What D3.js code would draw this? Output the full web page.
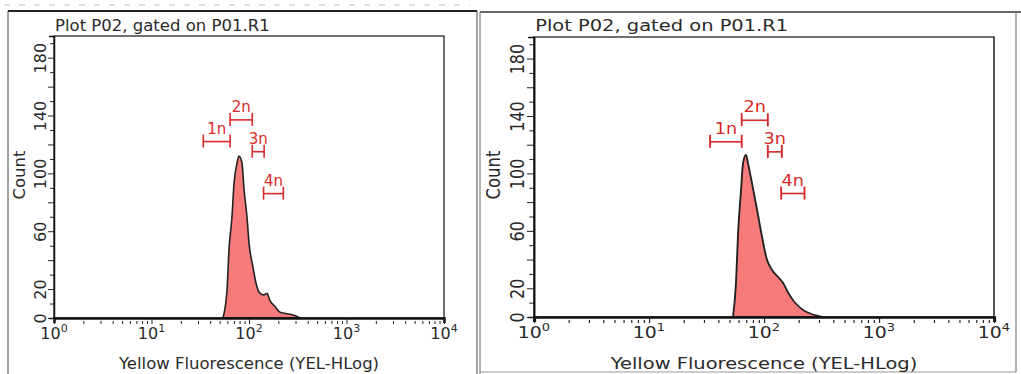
<!DOCTYPE html>
<html lang="en">
<head>
  <meta charset="utf-8">
  <script src="https://d3js.org/d3.v7.min.js"></script>
  <style>
    body { margin: 0; background: #fff; }
    svg { display: block; }
    text { font-family: "DejaVu Sans", Verdana, sans-serif; fill: #2a2a2a; }
  </style>
</head>
<body>
  <svg id="chart"></svg>

  <script>
    // data
    var xTickValues = [1, 10, 100, 1000, 10000];
    var yTickLabels = [0, 20, 60, 100, 140, 180];

    var gateNames = ['1n', '2n', '3n', '4n'];
    var gateLow = [34, 64, 108, 141];
    var gateHigh = [64, 108, 143, 225];
    var gateLevel = [122, 137, 115, 86];

    var leftFluor = [54, 59.5, 62.3, 66.9, 70.2, 75.3, 78.9, 84.8, 88.9, 95.3, 100, 110, 118, 130, 142, 153, 164, 185, 208, 245, 283, 334];
    var leftCount = [0, 19, 47, 70, 93, 107, 112, 107, 89, 70, 52, 35, 24, 17, 16, 17, 12, 8, 4, 3, 2, 0];

    var rightFluor = [53.8, 57.1, 59.5, 63.1, 65.7, 69.7, 72.6, 78.7, 86.9, 96.1, 106, 117, 132, 146, 162, 186, 218, 261, 289, 319];
    var rightCount = [0, 24, 58, 88, 107, 113, 107, 93, 75, 56, 40, 33, 28, 24, 17, 10, 5, 2, 1, 0];

    var W = 1021, H = 374;
    var svg = d3.select('#chart').attr('width', W).attr('height', H);

    // faint scan noise along the top-left edge
    svg.append('line')
      .attr('x1', 4).attr('x2', 470).attr('y1', 5).attr('y2', 5)
      .attr('stroke', '#bbb').attr('stroke-width', 1).attr('stroke-dasharray', '6,9');

    // panel frames
    svg.append('line').attr('x1', 8).attr('x2', 477).attr('y1', 11).attr('y2', 11)
      .attr('stroke', '#222').attr('stroke-width', 2);
    svg.append('line').attr('x1', 8).attr('x2', 8).attr('y1', 11).attr('y2', H)
      .attr('stroke', '#444').attr('stroke-width', 1);
    svg.append('line').attr('x1', 477).attr('x2', 477).attr('y1', 11).attr('y2', H)
      .attr('stroke', '#444').attr('stroke-width', 1);

    svg.append('line').attr('x1', 480).attr('x2', W).attr('y1', 12).attr('y2', 12)
      .attr('stroke', '#333').attr('stroke-width', 1.5);
    svg.append('line').attr('x1', 480).attr('x2', 480).attr('y1', 12).attr('y2', H)
      .attr('stroke', '#666').attr('stroke-width', 1);
    svg.append('line').attr('x1', 1016).attr('x2', 1016).attr('y1', 12).attr('y2', 372)
      .attr('stroke', '#666').attr('stroke-width', 1);
    svg.append('line').attr('x1', 480).attr('x2', 1016).attr('y1', 372).attr('y2', 372)
      .attr('stroke', '#999').attr('stroke-width', 1);

    function drawPanel(ox, sx, yBottom, yTop, fluor, count) {
      var g = svg.append('g')
        .attr('transform', 'translate(' + ox + ',0) scale(' + sx + ',1)');

      var x = d3.scaleLog().domain([1, 10000]).range([54, 444]);
      var y = d3.scaleLinear().domain([0, 195]).range([yBottom, yTop]);

      // title
      g.append('text')
        .attr('x', 55).attr('y', 31)
        .style('font-size', '16.5px')
        .text('Plot P02, gated on P01.R1');

      // histogram
      var pts = fluor.map(function (v, i) { return { v: v, c: count[i] }; });
      var area = d3.area()
        .x(function (d) { return x(d.v); })
        .y0(y(0))
        .y1(function (d) { return y(d.c); })
        .curve(d3.curveMonotoneX);
      g.append('path')
        .datum(pts)
        .attr('d', area)
        .attr('fill', '#f77b7b')
        .attr('stroke', '#222')
        .attr('stroke-width', 1.6)
        .attr('stroke-linejoin', 'round');

      // plot box
      g.append('rect')
        .attr('x', x(1)).attr('y', y(195))
        .attr('width', x(10000) - x(1)).attr('height', y(0) - y(195))
        .attr('fill', 'none').attr('stroke', '#111').attr('stroke-width', 1.2);

      // y axis
      var yAxis = d3.axisLeft(y)
        .tickValues(d3.range(0, 195, 10))
        .tickSize(5)
        .tickFormat(function (d) { return yTickLabels.indexOf(d) >= 0 ? d : ''; });
      var ya = g.append('g')
        .attr('transform', 'translate(' + x(1) + ',0)')
        .call(yAxis);
      ya.select('.domain').attr('stroke', '#111').attr('stroke-width', 1.5);
      ya.selectAll('.tick line')
        .attr('stroke', '#222')
        .attr('x2', function (d) { return d % 20 === 0 ? -6 : -4; });
      ya.selectAll('.tick text')
        .attr('x', 0).attr('y', 0).attr('dy', '0.35em')
        .attr('text-anchor', 'middle')
        .attr('transform', 'translate(-14,0) rotate(-90)')
        .style('font-size', '16px')
        .style('font-family', '"DejaVu Sans", Verdana, sans-serif')
        .attr('fill', '#2a2a2a');

      g.append('text')
        .attr('transform', 'translate(19,175) rotate(-90)')
        .attr('text-anchor', 'middle')
        .attr('dy', '0.35em')
        .style('font-size', '16.5px')
        .text('Count');

      // x axis: decade ticks plus 2..9 minors
      var minors = [];
      xTickValues.forEach(function (d) {
        if (d < 10000) for (var k = 2; k < 10; k++) minors.push(d * k);
      });
      var xAxis = d3.axisBottom(x)
        .tickValues(xTickValues.concat(minors))
        .tickSize(5)
        .tickFormat('');
      var xa = g.append('g')
        .attr('transform', 'translate(0,' + y(0) + ')')
        .call(xAxis);
      xa.select('.domain').attr('stroke', '#111').attr('stroke-width', 2.6);
      xa.selectAll('.tick line')
        .attr('stroke', '#222')
        .attr('y1', function (d) { return xTickValues.indexOf(d) >= 0 ? 1 : 3; })
        .attr('y2', 6);

      var lbl = g.selectAll('.xlbl')
        .data(xTickValues)
        .enter().append('text')
        .attr('class', 'xlbl')
        .attr('x', function (d) { return x(d); })
        .attr('y', y(0) + 21)
        .attr('text-anchor', 'middle')
        .style('font-size', '16px');
      lbl.append('tspan').text('10');
      lbl.append('tspan')
        .attr('dy', -7)
        .style('font-size', '11px')
        .text(function (d) { return Math.round(Math.log10(d)); });

      g.append('text')
        .attr('x', (x(1) + x(10000)) / 2)
        .attr('y', 369)
        .attr('text-anchor', 'middle')
        .style('font-size', '16.5px')
        .text('Yellow Fluorescence (YEL-HLog)');

      // gates
      var gates = gateNames.map(function (n, i) {
        return { name: n, lo: gateLow[i], hi: gateHigh[i], lev: gateLevel[i] };
      });
      var red = '#d62a2a';
      var gg = g.selectAll('.gate').data(gates).enter().append('g').attr('class', 'gate');
      gg.append('line')
        .attr('x1', function (d) { return x(d.lo); })
        .attr('x2', function (d) { return x(d.hi); })
        .attr('y1', function (d) { return y(d.lev); })
        .attr('y2', function (d) { return y(d.lev); })
        .attr('stroke', red).attr('stroke-width', 1.6);
      ['lo', 'hi'].forEach(function (k) {
        gg.append('line')
          .attr('x1', function (d) { return x(d[k]); })
          .attr('x2', function (d) { return x(d[k]); })
          .attr('y1', function (d) { return y(d.lev) - 7; })
          .attr('y2', function (d) { return y(d.lev) + 6; })
          .attr('stroke', red).attr('stroke-width', 1.6);
      });
      gg.append('text')
        .attr('x', function (d) { return (x(d.lo) + x(d.hi)) / 2; })
        .attr('y', function (d) { return y(d.lev) - 8; })
        .attr('text-anchor', 'middle')
        .style('font-size', '15px')
        .style('fill', red)
        .text(function (d) { return d.name; });
    }

    drawPanel(0, 1, 318, 36, leftFluor, leftCount);
    drawPanel(470.3, 1.1795, 317, 37, rightFluor, rightCount);
  </script>
</body>
</html>
